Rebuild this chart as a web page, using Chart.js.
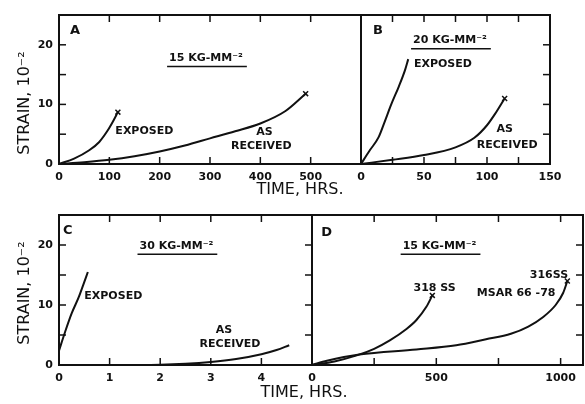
<!DOCTYPE html>
<html>
<head>
<meta charset="utf-8">
<script src="https://cdn.jsdelivr.net/npm/chart.js@4"></script>
<style>
  body { margin: 0; background: #fff; }
  #wrap { position: relative; width: 585px; height: 404px; overflow: hidden; }
  canvas { position: absolute; left: 0; top: 0; }
  .lbl { position: absolute; font-family: "DejaVu Sans"; font-size: 16px; color: #111; white-space: nowrap; transform: translate(-50%, -50%); }
  .rot { transform: translate(-50%, -50%) rotate(-90deg); }
</style>
</head>
<body>
<div id="wrap">
  <canvas id="chartA" width="585" height="404"></canvas>
  <canvas id="chartB" width="585" height="404"></canvas>
  <canvas id="chartC" width="585" height="404"></canvas>
  <canvas id="chartD" width="585" height="404"></canvas>
  <div class="lbl rot" style="left:23px;top:103px">STRAIN, 10⁻²</div>
  <div class="lbl rot" style="left:23px;top:293px">STRAIN, 10⁻²</div>
  <div class="lbl" style="left:300px;top:188px">TIME, HRS.</div>
  <div class="lbl" style="left:304px;top:391px">TIME, HRS.</div>
</div>
<script>
// panel A - 15 kg/mm2, hours
const aTimeExposed = [0, 30, 60, 80, 95, 105, 117];
const aStrainExposed = [0, 0.9, 2.3, 3.7, 5.4, 6.8, 8.7];
const aTimeReceived = [0, 50, 100, 150, 200, 250, 300, 350, 400, 450, 490];
const aStrainReceived = [0, 0.3, 0.7, 1.3, 2.1, 3.1, 4.3, 5.5, 6.8, 8.9, 11.8];
const aTickLabels = [0, 100, 200, 300, 400, 500];

// panel B - 20 kg/mm2
const bTimeExposed = [0, 7, 14, 19, 24, 30, 35, 37.5];
const bStrainExposed = [0, 2.3, 4.5, 7.2, 10, 13, 15.8, 17.6];
const bTimeReceived = [0, 25, 50, 75, 90, 100, 107, 114];
const bStrainReceived = [0, 0.7, 1.5, 2.8, 4.4, 6.5, 8.6, 11];
const bTickLabels = [0, 50, 100, 150];

// panel C - 30 kg/mm2
const cTimeExposed = [0, 0.12, 0.25, 0.39, 0.49, 0.57];
const cStrainExposed = [2.4, 5.5, 8.6, 11.3, 13.6, 15.5];
const cTimeReceived = [0, 1, 2, 2.5, 3, 3.5, 4, 4.3, 4.55];
const cStrainReceived = [0, 0, 0.05, 0.2, 0.5, 1.0, 1.8, 2.5, 3.3];
const cTickLabels = [0, 1, 2, 3, 4];

// panel D - 15 kg/mm2, two steels
const dTime318 = [0, 90, 180, 250, 313, 380, 420, 460, 484];
const dStrain318 = [0, 0.6, 1.6, 2.7, 4.1, 6, 7.5, 9.7, 11.6];
const dTime316 = [0, 60, 190, 420, 580, 700, 800, 870, 930, 980, 1010, 1027];
const dStrain316 = [0, 0.7, 1.75, 2.6, 3.3, 4.3, 5.2, 6.4, 8.0, 10.0, 12.0, 14.0];
const dTickLabels = [0, 500, 1000];

const strainTickLabels = [0, 10, 20];

const INK = '#111';
const TICK_FONT = { family: 'DejaVu Sans', weight: 'bold', size: 11 };

function pts(xs, ys) {
  return xs.map((x, i) => ({ x: x, y: ys[i] }));
}

function curve(xs, ys, marked) {
  return {
    data: pts(xs, ys),
    borderColor: INK,
    borderWidth: 2,
    cubicInterpolationMode: 'monotone',
    pointRadius: xs.map((x, i) => (marked && i === xs.length - 1) ? 3.5 : 0),
    pointStyle: 'crossRot',
    pointBorderWidth: 1.5,
    pointBorderColor: INK,
    clip: false
  };
}

// frame, inward ticks and text notes
const framePlugin = {
  id: 'frame',
  afterDatasetsDraw(chart, args, opts) {
    const ctx = chart.ctx;
    const a = chart.chartArea;
    const x = chart.scales.x, y = chart.scales.y;
    const L = 7;
    ctx.save();
    ctx.strokeStyle = INK;
    ctx.lineWidth = 2;
    ctx.strokeRect(a.left, a.top, a.right - a.left, a.bottom - a.top);
    ctx.lineWidth = 1.5;
    const seg = (x1, y1, x2, y2) => { ctx.beginPath(); ctx.moveTo(x1, y1); ctx.lineTo(x2, y2); ctx.stroke(); };
    x.ticks.forEach(t => {
      const px = x.getPixelForValue(t.value);
      if (px <= a.left + 1 || px >= a.right - 1) return;
      if (opts.sides.includes('top')) seg(px, a.top, px, a.top + L);
      if (opts.sides.includes('bottom')) seg(px, a.bottom, px, a.bottom - L);
    });
    y.ticks.forEach(t => {
      const py = y.getPixelForValue(t.value);
      if (py <= a.top + 1 || py >= a.bottom - 1) return;
      if (opts.sides.includes('left')) seg(a.left, py, a.left + L, py);
      if (opts.sides.includes('right')) seg(a.right, py, a.right - L, py);
    });
    ctx.fillStyle = INK;
    ctx.textBaseline = 'middle';
    (opts.notes || []).forEach(n => {
      ctx.font = 'bold ' + (n.size ? n.size : 11) + 'px "DejaVu Sans"';
      ctx.textAlign = n.align || 'center';
      const px = x.getPixelForValue(n.x), py = y.getPixelForValue(n.y);
      ctx.fillText(n.text, px, py);
      if (n.underline) {
        const w = ctx.measureText(n.text).width;
        const x0 = ctx.textAlign === 'left' ? px : px - w / 2;
        ctx.lineWidth = 1.5;
        seg(x0 - 2, py + 8, x0 + w + 4, py + 8);
      }
    });
    ctx.restore();
  }
};

function makePanel(id, cfg) {
  const ctx = document.getElementById(id).getContext('2d');
  new Chart(ctx, {
    type: 'line',
    data: { datasets: cfg.datasets },
    options: {
      responsive: false,
      animation: false,
      events: [],
      layout: { padding: cfg.padding, autoPadding: false },
      plugins: { legend: { display: false }, tooltip: { enabled: false }, frame: { sides: cfg.sides, notes: cfg.notes } },
      scales: {
        x: {
          type: 'linear', min: 0, max: cfg.xMax,
          grid: { display: false, drawTicks: false },
          border: { display: false },
          ticks: {
            stepSize: cfg.xStep, autoSkip: false, maxRotation: 0, padding: 7, includeBounds: false,
            color: INK, font: TICK_FONT,
            callback: v => cfg.xLabels.includes(v) ? v : ''
          },
          afterFit: s => { s.height = 36; s.paddingLeft = 0; s.paddingRight = 0; }
        },
        y: {
          type: 'linear', min: 0, max: 25,
          display: cfg.showY,
          grid: { display: false, drawTicks: false },
          border: { display: false },
          ticks: {
            stepSize: 5, autoSkip: false, padding: 6,
            color: INK, font: TICK_FONT,
            callback: v => strainTickLabels.includes(v) ? v : ''
          },
          afterFit: s => { s.width = cfg.showY ? 59 : 0; }
        }
      }
    },
    plugins: [framePlugin]
  });
}

makePanel('chartA', {
  datasets: [curve(aTimeExposed, aStrainExposed, true), curve(aTimeReceived, aStrainReceived, true)],
  padding: { left: 0, top: 15, right: 224, bottom: 204 },
  xMax: 600, xStep: 100, xLabels: aTickLabels, showY: true,
  sides: ['left', 'top', 'bottom'],
  notes: [
    { text: 'A', x: 22, y: 22.3, align: 'left', size: 13 },
    { text: '15 KG-MM⁻²', x: 292, y: 17.7, underline: true },
    { text: 'EXPOSED', x: 112, y: 5.5, align: 'left' },
    { text: 'AS', x: 408, y: 5.3 },
    { text: 'RECEIVED', x: 402, y: 3 }
  ]
});

makePanel('chartB', {
  datasets: [curve(bTimeExposed, bStrainExposed, false), curve(bTimeReceived, bStrainReceived, true)],
  padding: { left: 361, top: 15, right: 35, bottom: 204 },
  xMax: 150, xStep: 25, xLabels: bTickLabels, showY: false,
  sides: ['right', 'top', 'bottom'],
  notes: [
    { text: 'B', x: 9.5, y: 22.3, align: 'left', size: 13 },
    { text: '20 KG-MM⁻²', x: 70.6, y: 20.7, underline: true },
    { text: 'EXPOSED', x: 42, y: 16.8, align: 'left' },
    { text: 'AS', x: 114, y: 5.8 },
    { text: 'RECEIVED', x: 116, y: 3.2 }
  ]
});

makePanel('chartC', {
  datasets: [curve(cTimeExposed, cStrainExposed, false), curve(cTimeReceived, cStrainReceived, false)],
  padding: { left: 0, top: 215, right: 273, bottom: 3 },
  xMax: 5, xStep: 1, xLabels: cTickLabels, showY: true,
  sides: ['left', 'top', 'bottom', 'right'],
  notes: [
    { text: 'C', x: 0.08, y: 22.4, align: 'left', size: 13 },
    { text: '30 KG-MM⁻²', x: 2.32, y: 19.8, underline: true },
    { text: 'EXPOSED', x: 0.5, y: 11.45, align: 'left' },
    { text: 'AS', x: 3.26, y: 5.8 },
    { text: 'RECEIVED', x: 3.38, y: 3.45 }
  ]
});

makePanel('chartD', {
  datasets: [curve(dTime318, dStrain318, true), curve(dTime316, dStrain316, true)],
  padding: { left: 312, top: 215, right: 2, bottom: 3 },
  xMax: 1090, xStep: 250, xLabels: dTickLabels, showY: false,
  sides: ['right', 'top', 'bottom'],
  notes: [
    { text: 'D', x: 37, y: 22.1, align: 'left', size: 13 },
    { text: '15 KG-MM⁻²', x: 513, y: 19.8, underline: true },
    { text: '318 SS', x: 493, y: 12.8 },
    { text: '316SS', x: 953, y: 15 },
    { text: 'MSAR 66 -78', x: 821, y: 11.95 }
  ]
});
</script>
</body>
</html>
